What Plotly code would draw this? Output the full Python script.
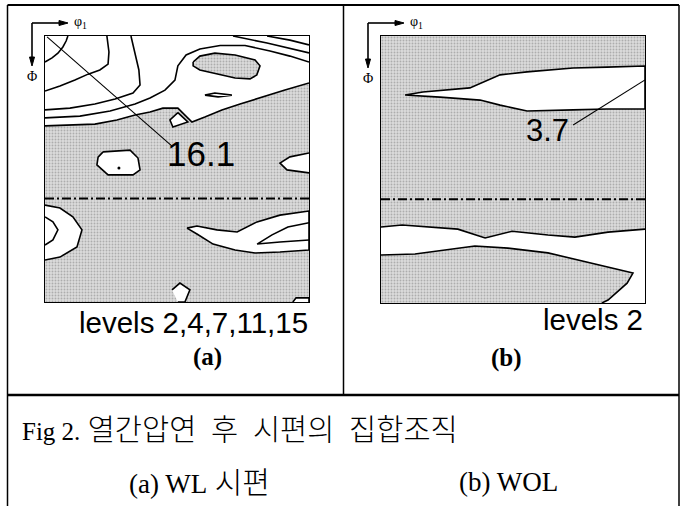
import plotly.graph_objects as go

W, H = 685, 506

# ---------------- panel (a): WL specimen ----------------
A_LEVELS = [2, 4, 7, 11, 15]
A_PEAK = 16.1
# contour lines as (phi1, Phi) in degrees
A_L2 = [(0, 30.4), (8.5, 30.1), (17.0, 29.8), (24.5, 28.4), (30.7, 26.7), (35.8, 25.7),
        (40.2, 24.4), (45.3, 24.4), (50.1, 29.1), (54.5, 27.4), (60.3, 25.0), (66.5, 23.0),
        (74.0, 20.6), (81.8, 18.3), (90, 15.9)]
A_L4 = [(0, 27.7), (11.9, 27.1), (22.2, 25.4), (30.7, 23.0), (35.8, 21.0), (40.9, 18.3),
        (44.3, 14.9), (45.3, 10.1), (48.1, 6.4), (52.8, 4.4), (59.7, 3.2), (68.2, 3.2),
        (76.7, 5.1), (83.5, 6.8), (90, 8.8)]
A_L7 = [(0, 25.0), (8.5, 24.4), (17.0, 23.0), (23.9, 21.3), (30.0, 19.3), (32.4, 16.6),
        (32.0, 11.5), (30.7, 5.4), (29.3, 0)]
A_L11 = [(0, 18.6), (5.1, 16.9), (10.2, 14.9), (14.7, 12.9), (18.7, 11.5), (21.5, 9.5),
         (21.8, 5.4), (21.1, 0)]
A_L15 = [(0, 8.8), (2.4, 7.4), (4.4, 5.8), (6.1, 3.7), (7.2, 1.7), (7.8, 0)]
A_TOP1 = [(64.1, 0), (75.7, 2.4), (90, 5.7)]
A_TOP2 = [(75.7, 0), (83.5, 1.4), (90, 3.0)]
A_LENS = [(54.5, 20.0), (57.9, 19.3), (63.7, 20.0), (59.0, 20.6), (54.5, 20.0)]
# low-intensity pocket inside the high-intensity zone
A_POCKET = [(50.5, 8.8), (52.8, 6.8), (57.9, 5.8), (64.8, 6.4), (71.6, 8.1), (73.3, 10.1),
            (72.2, 13.2), (69.9, 14.5), (64.8, 14.2), (57.9, 12.5), (52.8, 11.5), (50.5, 10.1)]
# islands above level 2 inside the shaded zone
A_DIAMOND = [(45.3, 25.9), (48.7, 29.1), (43.6, 30.8), (42.6, 28.4)]
A_CENTER = [(19.8, 39.2), (29.0, 38.6), (31.7, 41.3), (32.4, 45.3), (30.0, 47.0),
            (21.5, 47.0), (17.7, 43.6), (18.1, 41.0)]
A_CENTER_MAX = (25.2, 44.7)
A_RIGHT = [(90, 39.6), (83.5, 40.9), (80.1, 43.0), (82.5, 45.3), (90, 46.3)]
A_LOWLEFT = [(0, 57.2), (5.1, 58.2), (9.5, 61.2), (12.6, 65.6), (10.9, 71.4), (5.1, 74.8), (0, 75.8)]
A_LOWLEFT_IN = [(0, 61.2), (2.7, 62.9), (4.4, 65.6), (2.7, 69.0), (0, 70.7)]
A_LOWRIGHT = [(48.4, 65.0), (51.8, 64.3), (58.6, 65.6), (65.5, 66.3), (72.3, 62.9), (80.1, 60.6),
              (90, 59.2), (90, 72.4), (80.1, 73.1), (71.6, 73.4), (64.8, 72.4), (57.3, 70.4),
              (51.8, 67.0)]
A_LOWRIGHT_IN = [(90, 63.2), (82.8, 64.6), (77.4, 67.3), (72.3, 70.4), (80.1, 69.7), (90, 69.0)]
A_BOTTOM = [(43.3, 85.9), (46.0, 83.6), (49.4, 85.9), (47.7, 90), (45.3, 90)]
A_CORNER = [(84.5, 90), (85.6, 88.6), (90, 88.6), (90, 90)]
A_LEADER = [(0.7, 0.3), (43.6, 37.5)]
A_LABEL_POS = (53.2, 39.9)

# ---------------- panel (b): WOL specimen ----------------
B_LEVELS = [2]
B_PEAK = 3.7
B_BAND1 = [(8.2, 19.9), (14.3, 18.9), (30.3, 17.5), (34.8, 15.5), (40.6, 13.1), (49.8, 12.1),
           (65.5, 10.8), (77.0, 10.5), (90, 10.1), (90, 24.6), (77.0, 24.6), (65.5, 24.9),
           (49.8, 25.3), (40.6, 23.3), (33.8, 21.6), (20.1, 20.6)]
B_BAND2_TOP = [(0, 64.4), (7.2, 63.7), (26.2, 65.1), (35.5, 68.1), (44.7, 65.8), (56.9, 67.1),
               (66.1, 67.8), (77.4, 66.1), (90, 65.1)]
B_BAND2_BOT = [(0, 73.8), (11.6, 73.5), (32.0, 70.8), (43.3, 71.5), (56.9, 73.1), (71.9, 76.5),
               (85.9, 79.9), (83.9, 83.3), (77.4, 89.0), (75.3, 90)]
B_LEADER = [(65.5, 30.0), (90, 14.8)]
B_LABEL_POS = (56.9, 31.7)

SYMMETRY_PHI = 55  # dash-dot reference line

SHADE = dict(shape=".", fgcolor="#7d7d7d", bgcolor="#dcdcdc", size=3, solidity=0.32)
LINE = dict(color="black", width=1.6)


def xs(pts):
    return [p[0] for p in pts]


def ys(pts):
    return [p[1] for p in pts]


fig = go.Figure()


def region(pts, ax, shaded):
    kw = dict(x=xs(pts), y=ys(pts), mode="lines", fill="toself", line=dict(width=0),
              hoverinfo="skip", showlegend=False, xaxis="x" + ax, yaxis="y" + ax)
    if shaded:
        kw["fillpattern"] = SHADE
        kw["fillcolor"] = "#dcdcdc"
    else:
        kw["fillcolor"] = "white"
    fig.add_trace(go.Scatter(**kw))


def contour(pts, ax, closed=False, width=None):
    p = list(pts) + ([pts[0]] if closed else [])
    ln = dict(LINE)
    if width:
        ln["width"] = width
    fig.add_trace(go.Scatter(x=xs(p), y=ys(p), mode="lines", line=ln, hoverinfo="skip",
                             showlegend=False, xaxis="x" + ax, yaxis="y" + ax))


# panel (a) -- axis ids "" (x, y)
a = ""
region(A_L2 + [(90, 90), (0, 90)], a, True)
for isl in (A_DIAMOND, A_CENTER, A_RIGHT, A_LOWLEFT, A_LOWRIGHT, A_BOTTOM, A_CORNER):
    region(isl, a, False)
region(A_POCKET, a, True)
for ln in (A_L2, A_L4, A_L7, A_L11, A_L15, A_TOP1, A_TOP2, A_LENS, A_LOWLEFT_IN, A_LOWRIGHT_IN):
    contour(ln, a)
for isl in (A_DIAMOND, A_CENTER, A_POCKET, A_LOWRIGHT):
    contour(isl, a, closed=True)
for isl in (A_RIGHT, A_LOWLEFT, A_BOTTOM, A_CORNER):
    contour(isl, a)
fig.add_trace(go.Scatter(x=[A_CENTER_MAX[0]], y=[A_CENTER_MAX[1]], mode="markers",
                         marker=dict(color="black", size=3), hoverinfo="skip", showlegend=False))
contour(A_LEADER, a, width=1.1)
fig.add_trace(go.Scatter(x=[0, 90], y=[SYMMETRY_PHI] * 2, mode="lines",
                         line=dict(color="black", width=2, dash="9px,3px,2px,3px"),
                         hoverinfo="skip", showlegend=False))

# panel (b) -- axis ids "2"
b = "2"
region([(0, 0), (90, 0), (90, 90), (0, 90)], b, True)
region(B_BAND1, b, False)
region(B_BAND2_TOP + [(90, 90)] + B_BAND2_BOT[::-1], b, False)
contour(B_BAND1, b, closed=True)
contour(B_BAND2_TOP, b)
contour(B_BAND2_BOT, b)
contour(B_LEADER, b, width=1.1)
fig.add_trace(go.Scatter(x=[0, 90], y=[SYMMETRY_PHI] * 2, mode="lines", xaxis="x2", yaxis="y2",
                         line=dict(color="black", width=2, dash="9px,3px,2px,3px"),
                         hoverinfo="skip", showlegend=False))


def px(x):
    return x / W


def py(y):
    return 1 - y / H


axis_common = dict(range=[0, 90], showgrid=False, zeroline=False, showticklabels=False,
                   ticks="", showline=True, mirror=True, linecolor="black", linewidth=1.2)

SANS = "Liberation Sans, Arial, sans-serif"
SERIF = "Liberation Serif, Times New Roman, serif"
CAPTION = "Liberation Serif, Times New Roman, Noto Sans CJK KR, serif"
GAP = "\u00a0\u00a0"

ann = []
# contour peak labels
ann.append(dict(x=A_LABEL_POS[0], y=A_LABEL_POS[1], xref="x", yref="y", text=f"{A_PEAK}",
                showarrow=False, font=dict(family=SANS, size=35, color="black")))
ann.append(dict(x=B_LABEL_POS[0], y=B_LABEL_POS[1], xref="x2", yref="y2", text=f"{B_PEAK}",
                showarrow=False, font=dict(family=SANS, size=31, color="black")))
# level lists
ann.append(dict(x=px(310), y=py(322), xref="paper", yref="paper", xanchor="right", yanchor="middle",
                text="levels " + ",".join(str(v) for v in A_LEVELS), showarrow=False,
                font=dict(family=SANS, size=29.5, color="black")))
ann.append(dict(x=px(645), y=py(319), xref="paper", yref="paper", xanchor="right", yanchor="middle",
                text="levels " + ",".join(str(v) for v in B_LEVELS), showarrow=False,
                font=dict(family=SANS, size=29.5, color="black")))
# panel tags
ann.append(dict(x=px(191), y=py(373), xref="paper", yref="paper", text="<b>(a)</b>", showarrow=False,
                font=dict(family=SERIF, size=25, color="black")))
ann.append(dict(x=px(524), y=py(374), xref="paper", yref="paper", text="<b>(b)</b>", showarrow=False,
                font=dict(family=SERIF, size=25, color="black")))
# caption
ann.append(dict(x=px(20), y=py(430), xref="paper", yref="paper", xanchor="left", yanchor="middle",
                text='<span style="font-size:25px">Fig 2.</span> 열간압연' + GAP + "후" + GAP + "시편의"
                     + GAP + "집합조직",
                showarrow=False, font=dict(family=CAPTION, size=29.5, color="black", weight=300)))
ann.append(dict(x=px(127), y=py(482), xref="paper", yref="paper", xanchor="left", yanchor="middle",
                text='<span style="font-size:27px">(a) WL</span> 시편', showarrow=False,
                font=dict(family=CAPTION, size=30, color="black", weight=300)))
ann.append(dict(x=px(457), y=py(482), xref="paper", yref="paper", xanchor="left", yanchor="middle",
                text="(b) WOL", showarrow=False, font=dict(family=CAPTION, size=27, color="black")))

shapes = []
# orientation keys (phi1 to the right, Phi downward), drawn as lines with triangular heads
for ox, hx, vy in ((32, 68, 66), (368, 404, 68)):
    oy = 23
    shapes.append(dict(type="line", xref="paper", yref="paper", x0=px(ox), y0=py(oy),
                       x1=px(hx - 7), y1=py(oy), line=dict(color="black", width=1.6)))
    shapes.append(dict(type="line", xref="paper", yref="paper", x0=px(ox), y0=py(oy),
                       x1=px(ox), y1=py(vy - 7), line=dict(color="black", width=1.6)))
    shapes.append(dict(type="path", xref="paper", yref="paper", fillcolor="black",
                       line=dict(color="black", width=1),
                       path=f"M {px(hx)},{py(oy)} L {px(hx - 9)},{py(oy - 2.5)} "
                            f"L {px(hx - 9)},{py(oy + 2.5)} Z"))
    shapes.append(dict(type="path", xref="paper", yref="paper", fillcolor="black",
                       line=dict(color="black", width=1),
                       path=f"M {px(ox)},{py(vy)} L {px(ox - 2.5)},{py(vy - 9)} "
                            f"L {px(ox + 2.5)},{py(vy - 9)} Z"))
    ann.append(dict(x=px(hx + 4), y=py(oy), xref="paper", yref="paper", xanchor="left", yanchor="middle",
                    text="φ<sub>1</sub>", showarrow=False, font=dict(family=SERIF, size=14, color="black")))
    ann.append(dict(x=px(ox), y=py(vy + 10), xref="paper", yref="paper", xanchor="center",
                    yanchor="middle", text="Φ", showarrow=False,
                    font=dict(family=SERIF, size=14, color="black")))

# table frame
for x0, y0, x1, y1, w in ((7.5, 5, 679, 5, 2), (7.5, 5, 7.5, 506, 1.5), (679, 5, 679, 506, 1.5),
                          (343.5, 5, 343.5, 395, 1.5), (7.5, 395, 679, 395, 2.5)):
    shapes.append(dict(type="line", xref="paper", yref="paper", x0=px(x0), y0=py(y0),
                       x1=px(x1), y1=py(y1), line=dict(color="black", width=w)))

fig.update_layout(
    width=W, height=H, autosize=False,
    margin=dict(l=0, r=0, t=0, b=0),
    paper_bgcolor="white", plot_bgcolor="white",
    xaxis=dict(axis_common, domain=[px(45), px(309)]),
    yaxis=dict(axis_common, domain=[py(302), py(36)], range=[90, 0]),
    xaxis2=dict(axis_common, domain=[px(381), px(645)], anchor="y2"),
    yaxis2=dict(axis_common, domain=[py(303), py(36)], range=[90, 0], anchor="x2"),
    annotations=ann, shapes=shapes,
)

fig.write_html("out.html", config={"displayModeBar": False})
